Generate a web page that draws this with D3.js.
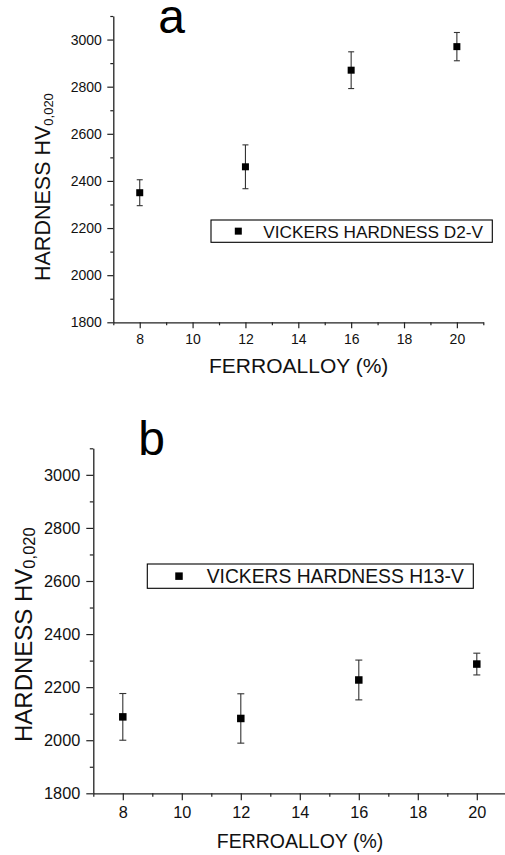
<!DOCTYPE html>
<html>
<head>
<meta charset="utf-8">
<script src="https://cdn.jsdelivr.net/npm/d3@7"></script>
<style>
  html, body { margin: 0; padding: 0; background: #fff; }
  svg { display: block; font-family: "Liberation Sans", Arial, sans-serif; }
</style>
</head>
<body>
<svg id="chart" width="505" height="855"></svg>
<script>
// ---- data ----
const ferroalloy = [8, 12, 16, 20];
const hardnessD2V = [2350, 2460, 2870, 2970];
const errorD2V = [55, 93, 78, 60];
const hardnessH13V = [2088, 2082, 2227, 2287];
const errorH13V = [88, 93, 75, 41];
const xMajorTicks = [8, 10, 12, 14, 16, 18, 20];
const xMinorTicks = [7, 9, 11, 13, 15, 17, 19, 21];
const yMajorTicks = [1800, 2000, 2200, 2400, 2600, 2800, 3000];
const yMinorTicks = [1900, 2100, 2300, 2500, 2700, 2900, 3100];
const panelLabels = ["a", "b"];
const legendLabels = ["VICKERS HARDNESS D2-V", "VICKERS HARDNESS H13-V"];
const xTitle = "FERROALLOY (%)";
const yTitleMain = "HARDNESS HV";
const yTitleSub = "0,020";

const svg = d3.select("#chart");

const panels = [
  {
    label: panelLabels[0], values: hardnessD2V, errors: errorD2V, legend: legendLabels[0],
    left: 113.3, right: 483.3, top: 16, bottom: 322.3,
    tickFont: 14, majorLen: 6, minorLen: 3, pad: 5.5,
    labelX: 171.5, labelY: 33.3, labelSize: 48,
    legendBox: [211, 220, 281.3, 22.3], legendMarkerX: 238.3, legendTextX: 263.3, legendTextY: 237.7, legendFont: 17.2,
    xTitleX: 298.7, xTitleY: 373.3, xTitleSize: 21,
    yTitleX: 50, yTitleY: 281, yTitleSize: 21.5, ySubSize: 13,
    marker: 7, cap: 6
  },
  {
    label: panelLabels[1], values: hardnessH13V, errors: errorH13V, legend: legendLabels[1],
    left: 93.3, right: 506.3, top: 448.3, bottom: 793.3,
    tickFont: 16.3, majorLen: 7, minorLen: 3.5, pad: 6,
    labelX: 151.5, labelY: 455, labelSize: 48,
    legendBox: [147.3, 564, 326, 24.3], legendMarkerX: 179, legendTextX: 206.7, legendTextY: 583, legendFont: 19.3,
    xTitleX: 300, xTitleY: 848.3, xTitleSize: 19.5,
    yTitleX: 31.7, yTitleY: 742, yTitleSize: 24, ySubSize: 16.5,
    marker: 7.5, cap: 7
  }
];

panels.forEach(p => {
  const g = svg.append("g");
  const x = d3.scaleLinear().domain([7, 21]).range([p.left, p.right]);
  const y = d3.scaleLinear().domain([1800, 3100]).range([p.bottom, p.top]);

  // minor ticks
  g.append("g").attr("transform", `translate(0,${p.bottom})`)
    .call(d3.axisBottom(x).tickValues(xMinorTicks).tickSize(p.minorLen).tickFormat(""))
    .call(a => a.select(".domain").remove());
  g.append("g").attr("transform", `translate(${p.left},0)`)
    .call(d3.axisLeft(y).tickValues(yMinorTicks).tickSize(p.minorLen).tickFormat(""))
    .call(a => a.select(".domain").remove());

  // major axes
  const xa = g.append("g").attr("transform", `translate(0,${p.bottom})`)
    .call(d3.axisBottom(x).tickValues(xMajorTicks).tickSize(p.majorLen).tickSizeOuter(0).tickPadding(p.pad).tickFormat(d3.format("d")));
  const ya = g.append("g").attr("transform", `translate(${p.left},0)`)
    .call(d3.axisLeft(y).tickValues(yMajorTicks).tickSize(p.majorLen).tickSizeOuter(0).tickPadding(p.pad).tickFormat(d3.format("d")));
  [xa, ya].forEach(a => {
    a.selectAll("text").attr("font-size", p.tickFont).attr("fill", "#111").attr("font-family", "Liberation Sans, Arial, sans-serif");
    a.selectAll("line").attr("stroke", "#222").attr("stroke-width", 1.2);
    a.select(".domain").attr("stroke", "#222").attr("stroke-width", 1.3);
  });
  g.selectAll(".tick line").attr("stroke", "#222").attr("stroke-width", 1.2);

  // error bars
  const eb = g.append("g").attr("stroke", "#333").attr("stroke-width", 1.1);
  ferroalloy.forEach((fx, i) => {
    const cx = x(fx);
    const hi = y(p.values[i] + p.errors[i]);
    const lo = y(p.values[i] - p.errors[i]);
    eb.append("line").attr("x1", cx).attr("x2", cx).attr("y1", hi).attr("y2", lo);
    eb.append("line").attr("x1", cx - p.cap / 2).attr("x2", cx + p.cap / 2).attr("y1", hi).attr("y2", hi);
    eb.append("line").attr("x1", cx - p.cap / 2).attr("x2", cx + p.cap / 2).attr("y1", lo).attr("y2", lo);
  });

  // markers
  g.append("g").selectAll("rect").data(ferroalloy).join("rect")
    .attr("x", d => x(d) - p.marker / 2)
    .attr("y", (d, i) => y(p.values[i]) - p.marker / 2)
    .attr("width", p.marker).attr("height", p.marker)
    .attr("fill", "#000");

  // legend
  const [lx, ly, lw, lh] = p.legendBox;
  g.append("rect").attr("x", lx).attr("y", ly).attr("width", lw).attr("height", lh)
    .attr("fill", "#fff").attr("stroke", "#000").attr("stroke-width", 1.1);
  g.append("rect").attr("x", p.legendMarkerX - p.marker / 2).attr("y", ly + lh / 2 - p.marker / 2)
    .attr("width", p.marker).attr("height", p.marker).attr("fill", "#000");
  g.append("text").attr("x", p.legendTextX).attr("y", p.legendTextY)
    .attr("font-size", p.legendFont).attr("fill", "#111").text(p.legend);

  // panel label
  g.append("text").attr("x", p.labelX).attr("y", p.labelY).attr("text-anchor", "middle")
    .attr("font-size", p.labelSize).attr("fill", "#000").text(p.label);

  // x title
  g.append("text").attr("x", p.xTitleX).attr("y", p.xTitleY).attr("text-anchor", "middle")
    .attr("font-size", p.xTitleSize).attr("fill", "#111").text(xTitle);

  // y title
  const yt = g.append("text")
    .attr("transform", `translate(${p.yTitleX},${p.yTitleY}) rotate(-90)`)
    .attr("font-size", p.yTitleSize).attr("fill", "#111");
  yt.append("tspan").text(yTitleMain);
  yt.append("tspan").attr("font-size", p.ySubSize).attr("dy", p.ySubSize * 0.2).text(yTitleSub);
});
</script>
</body>
</html>
